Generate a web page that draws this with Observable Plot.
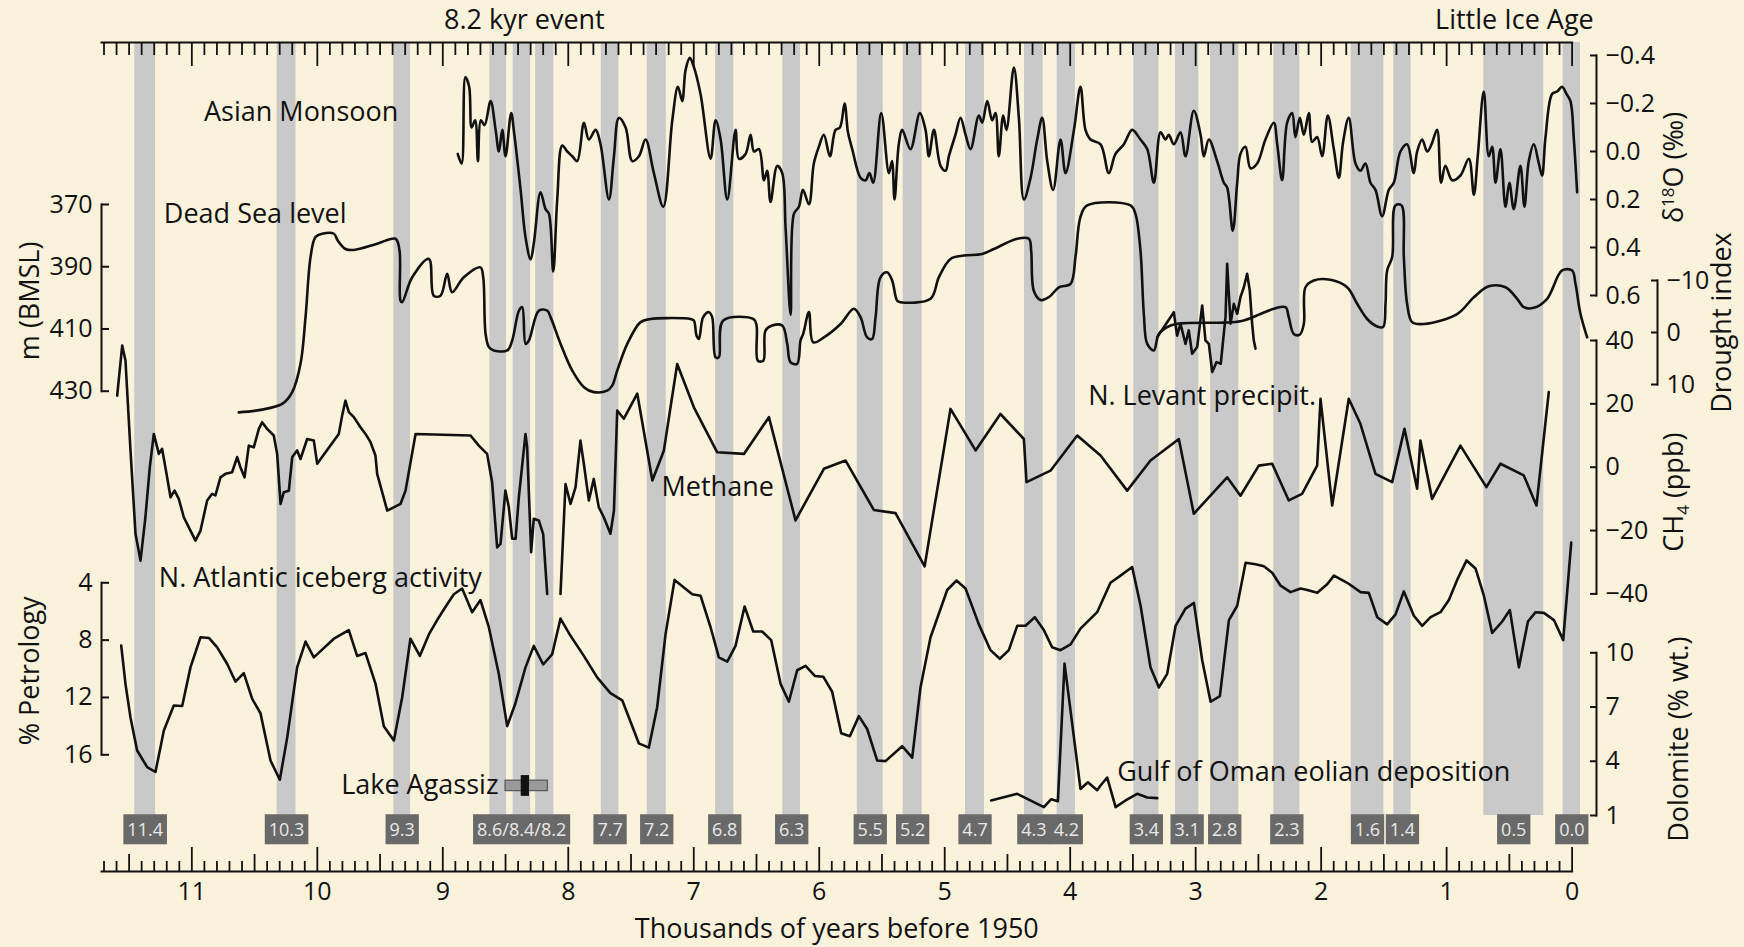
<!DOCTYPE html>
<html><head><meta charset="utf-8">
<script src="https://cdn.jsdelivr.net/npm/d3@7"></script>
<script src="https://cdn.jsdelivr.net/npm/@observablehq/plot@0.6"></script>
<style>
html,body{margin:0;padding:0;background:#fbf2dc;}
#chart{position:relative;width:1744px;height:947px;background:#fbf2dc;overflow:hidden;}
#chart svg{position:absolute;left:0;top:0;overflow:visible;}
</style></head><body><div id="chart"></div>
<script>
// ---------------- DATA (ages in thousands of years before 1950) ----------------
const bandStart = [11.455,10.32,9.39,8.625,8.439,8.26,7.737,7.371,6.826,6.29,5.697,5.331,4.834,4.364,4.104,3.493,3.161,2.881,2.377,1.761,1.421,0.704,0.072];
const bandEnd   = [11.289,10.17,9.257,8.492,8.30,8.115,7.597,7.219,6.68,6.149,5.49,5.18,4.683,4.215,3.958,3.293,2.975,2.656,2.17,1.5,1.283,0.226,-0.067];
const bandLabel = ["11.4","10.3","9.3","8.6/8.4/8.2","8.6/8.4/8.2","8.6/8.4/8.2","7.7","7.2","6.8","6.3","5.5","5.2","4.7","4.3","4.2","3.4","3.1","2.8","2.3","1.6","1.4","0.5","0.0"];

const eventNames = ["8.2 kyr event","Little Ice Age"];
const eventAges = [8.35, 0.46];

// Asian Monsoon, δ18O (‰)
const monsoon = [[8.881,0.01],[8.85,0.05],[8.82,-0.31],[8.79,-0.27],[8.77,-0.10],[8.742,-0.13],[8.72,0.04],[8.697,-0.13],[8.667,-0.11],[8.619,-0.21],[8.579,-0.09],[8.553,0.0],[8.526,-0.09],[8.50,0.02],[8.455,-0.16],[8.43,-0.07],[8.38,0.16],[8.34,0.36],[8.30,0.45],[8.274,0.38],[8.221,0.17],[8.181,0.24],[8.154,0.26],[8.12,0.50],[8.088,0.20],[8.048,-0.025],[8.008,0.0],[7.968,0.02],[7.929,0.04],[7.875,-0.12],[7.836,-0.05],[7.782,-0.09],[7.743,-0.03],[7.676,0.20],[7.636,0.02],[7.597,-0.14],[7.543,-0.10],[7.49,0.04],[7.437,0.02],[7.384,-0.05],[7.318,0.09],[7.243,0.23],[7.171,-0.13],[7.126,-0.27],[7.092,-0.21],[7.065,-0.34],[7.031,-0.39],[7.004,-0.36],[6.946,-0.24],[6.866,0.03],[6.826,-0.13],[6.786,-0.05],[6.733,0.20],[6.667,-0.09],[6.64,0.03],[6.587,0.01],[6.547,-0.07],[6.52,0.0],[6.48,-0.01],[6.44,0.12],[6.415,0.08],[6.388,0.21],[6.335,0.06],[6.295,0.09],[6.268,0.32],[6.228,0.68],[6.202,0.26],[6.162,0.23],[6.13,0.16],[6.082,0.22],[6.043,0.05],[6.003,-0.02],[5.963,-0.07],[5.915,0.02],[5.87,-0.09],[5.835,-0.10],[5.798,-0.20],[5.771,-0.08],[5.737,-0.01],[5.67,0.11],
[5.631,0.12],[5.60,0.09],[5.57,0.13],[5.506,-0.16],[5.445,0.09],[5.42,0.04],[5.40,0.20],[5.366,-0.03],[5.339,-0.09],[5.273,-0.01],[5.198,-0.16],[5.153,-0.09],[5.126,0.02],[5.086,-0.09],[5.033,0.06],[4.993,0.08],[4.967,0.02],[4.914,-0.07],[4.874,-0.14],[4.834,-0.07],[4.794,-0.01],[4.728,-0.15],[4.701,-0.12],[4.661,-0.21],[4.622,-0.13],[4.595,-0.16],[4.569,0.02],[4.534,-0.15],[4.508,-0.09],[4.449,-0.35],[4.409,-0.14],[4.369,0.20],[4.316,0.11],[4.263,-0.05],[4.223,-0.14],[4.183,0.04],[4.136,0.16],[4.077,-0.05],[4.037,0.09],[3.97,-0.09],[3.918,-0.27],[3.878,-0.09],[3.838,-0.05],[3.758,-0.03],[3.692,0.09],[3.639,0.01],[3.572,-0.03],[3.506,-0.09],[3.44,-0.05],[3.386,-0.01],[3.333,0.13],[3.28,-0.08],[3.24,-0.05],[3.214,-0.07],[3.174,-0.03],[3.121,-0.08],[3.081,0.02],[3.015,-0.17],[2.961,-0.07],[2.935,0.02],[2.895,-0.05],[2.829,0.04],[2.775,0.13],[2.749,0.15],[2.704,0.33],[2.669,0.13],[2.643,0.01],
[2.603,-0.02],[2.563,0.07],[2.51,0.05],[2.444,-0.05],[2.377,-0.12],[2.35,-0.03],[2.311,0.12],[2.271,-0.12],[2.231,-0.16],[2.205,-0.06],[2.17,-0.14],[2.138,-0.07],[2.098,-0.16],[2.072,-0.04],[2.032,-0.06],[1.992,0.02],[1.947,-0.15],[1.899,-0.01],[1.859,0.11],[1.825,-0.04],[1.78,-0.14],[1.726,0.05],[1.687,0.08],[1.647,0.05],[1.607,0.13],[1.567,0.16],[1.514,0.27],[1.461,0.16],[1.421,0.13],[1.368,0.0],[1.315,-0.03],[1.262,0.09],[1.235,0.0],[1.195,-0.05],[1.155,0.0],[1.12,-0.03],[1.076,-0.09],[1.044,0.13],[1.01,0.06],[0.956,0.12],[0.89,0.10],[0.823,0.03],[0.783,0.18],[0.752,0.02],[0.704,-0.25],[0.664,0.02],[0.637,-0.02],[0.61,0.13],[0.571,-0.01],[0.531,0.23],[0.50,0.13],[0.465,0.24],[0.412,0.06],[0.38,0.23],[0.345,0.04],[0.305,-0.03],[0.265,0.05],[0.239,0.10],[0.212,-0.06],[0.159,-0.24],[0.119,-0.25],[0.08,-0.27],[0.045,-0.24],[0.013,-0.21],[-0.014,-0.05],[-0.04,0.17]];

// Dead Sea level, m below mean sea level
const deadSea = [[10.626,436.8],[10.453,436],[10.28,434.1],[10.2,430.3],[10.134,421.2],[10.094,406.2],[10.054,386.9],[10.015,380.5],[9.961,379.4],[9.868,379.4],[9.837,381.6],[9.775,384.3],[9.709,384.6],[9.523,382.6],[9.377,381],[9.345,384.8],[9.337,400.9],[9.324,401.4],[9.244,393.4],[9.111,387.5],[9.072,399.3],[9.018,399.3],[8.965,392.3],[8.926,398.2],[8.833,393.4],[8.7,390.2],[8.678,393.4],[8.659,411.6],[8.632,415.9],[8.593,416.9],[8.486,416.9],[8.447,413.7],[8.393,404.1],[8.367,403],[8.34,414.8],[8.314,413.7],[8.234,404.1],[8.168,404.1],[8.141,406.2],[8.061,414.8],[7.968,423.4],[7.875,428.7],[7.796,430.3],[7.69,429.8],[7.65,428.2],[7.61,423.4],[7.53,414.8],[7.424,407.8],[7.344,406.8],[7.211,406.5],[7.025,406.8],[6.999,407.3],[6.978,412.1],[6.959,413.2],[6.925,406.2],[6.879,404.6],[6.853,406.2],[6.826,419.1],[6.8,419.1],[6.765,407.3],[6.521,406.9],[6.499,409],[6.489,420.2],[6.446,420.2],[6.428,410.5],[6.375,408.9],[6.295,408.9],[6.255,414.8],[6.229,420.7],[6.176,421.2],[6.149,413.7],[6.128,411.6],[6.082,404.6],[6.048,414.3],[5.963,412.7],[5.83,408.4],[5.724,403.5],[5.671,406.2],[5.618,412.7],[5.579,413.2],[5.551,406.2],[5.512,393.4],[5.459,391.8],[5.419,394.4],[5.379,400.9],[5.352,401.4],[5.113,400.3],[5.047,393.4],[4.954,387.5],[4.848,386.4],[4.701,385.9],[4.608,384.3],[4.422,381],[4.329,381],[4.311,384.8],[4.29,397.7],[4.236,400.7],[4.17,399.8],[4.09,396.6],[3.997,395.5],[3.958,386.9],[3.918,374],[3.865,370.3],[3.519,370.3],[3.48,373],[3.44,384.8],[3.413,405.2],[3.386,414.8],[3.333,416.9],[3.293,411.6],[3.2,408.9],[3.121,408.2],[2.643,407.5],[2.484,405.2],[2.377,403.5],[2.284,403],[2.258,406.2],[2.218,411.6],[2.17,411.8],[2.138,408.4],[2.125,396.6],[2.059,394.4],[1.926,394.2],[1.793,396.6],[1.713,401.9],[1.633,406.8],[1.554,409.2],[1.506,409.4],[1.487,401.9],[1.474,391.2],[1.434,386.9],[1.408,370.3],[1.36,370.3],[1.341,386.9],[1.315,401.9],[1.275,407.8],[1.182,408.4],[0.916,405.2],[0.783,399.8],[0.664,396.3],[0.531,396.6],[0.438,400.3],[0.385,403],[0.305,403.2],[0.199,400.3],[0.08,391.2],[0.0,391.2],[-0.027,395.5],[-0.067,405.2],[-0.12,412.7]];

// N. Levant precipitation, drought index
const levant = [[3.307,0.9],[3.174,-3.9],[3.148,0.6],[3.121,-1.7],[3.081,2.2],[3.055,-0.4],[3.028,4.1],[2.988,2.8],[2.948,-5.2],[2.922,1.5],[2.895,2.2],[2.868,7.6],[2.834,5.7],[2.80,6.0],[2.762,-3.0],[2.749,-13.2],[2.722,-1.7],[2.696,-5.5],[2.669,-3.6],[2.643,-6.8],[2.616,-8.7],[2.59,-11.3],[2.569,-8.1],[2.55,-1.7],[2.537,1.5],[2.523,3.1]];

// Methane anomaly, CH4 (ppb); null marks the gap in the record
const methane = [[11.595,22.6],[11.555,38.4],[11.529,33.7],[11.489,5.3],[11.449,-21],[11.409,-29.5],[11.37,-15.8],[11.335,0],[11.303,10.5],[11.263,4.2],[11.237,5.8],[11.197,-3.2],[11.17,-9.5],[11.138,-7.4],[11.104,-10],[11.064,-15.8],[11.011,-20],[10.971,-23.2],[10.931,-20],[10.878,-10.5],[10.838,-8.4],[10.812,-8.9],[10.772,-3.2],[10.732,-2.1],[10.679,-1.6],[10.639,3.2],[10.613,0],[10.58,-3.2],[10.546,6.8],[10.506,6.3],[10.466,12.1],[10.44,14.2],[10.4,12.1],[10.347,10],[10.32,4.2],[10.293,-11.6],[10.267,-7.9],[10.227,-7.4],[10.2,3.2],[10.161,5.3],[10.134,2.6],[10.081,8.9],[10.028,8.4],[10.001,1.1],[9.829,10.5],[9.802,16.3],[9.776,21],[9.749,17.4],[9.709,15.8],[9.656,12.6],[9.616,10.5],[9.576,7.9],[9.537,3.7],[9.523,-2.1],[9.443,-13.7],[9.337,-11.6],[9.297,-7.4],[9.217,10.5],[8.779,10],[8.713,6.8],[8.647,4.2],[8.607,-4.7],[8.567,-25.3],[8.54,-24.2],[8.501,-7.4],[8.474,-12.6],[8.447,-22.6],[8.42,-22.6],[8.394,-9.5],[8.341,10.5],[8.328,6.3],[8.296,-26.8],[8.275,-16.3],[8.235,-16.8],[8.2,-21.1],[8.168,-40],[8.115,null],[8.062,-40],[8.022,-5.3],[7.982,-11.6],[7.942,-6.3],[7.903,8.4],[7.876,1.1],[7.836,-10.5],[7.797,-3.7],[7.757,-12.6],[7.717,-15.8],[7.664,-21],[7.636,-13.7],[7.61,17.9],[7.557,15.3],[7.45,23.2],[7.33,-4.2],[7.238,5.3],[7.132,32.6],[6.999,18.9],[6.813,4.7],[6.6,4.2],[6.401,15.8],[6.189,-16.8],[5.963,-0.5],[5.79,2.1],[5.565,-13.5],[5.392,-14.5],[5.16,-31.3],[4.954,18.4],[4.754,5.3],[4.556,16.8],[4.369,8.9],[4.348,-4.7],[4.157,-1.1],[3.944,10],[3.758,3.7],[3.546,-7.4],[3.36,2.1],[3.134,8.9],[3.015,-14.7],[2.895,-9.5],[2.749,-3.2],[2.643,-9],[2.497,0.5],[2.39,1.1],[2.258,-10.5],[2.152,-8.4],[2.032,0.5],[2.005,21.6],[1.912,-12.1],[1.78,21.6],[1.687,13.7],[1.567,-2.1],[1.434,-4.7],[1.336,12.1],[1.235,-6.8],[1.209,8.4],[1.116,-10],[0.89,6.8],[0.683,-6.3],[0.571,1.1],[0.385,-2.6],[0.284,-12.1],[0.186,23.7]];

// N. Atlantic iceberg activity, % petrology
const petrology = [[11.563,8.37],[11.529,11.05],[11.489,13.4],[11.436,15.7],[11.356,16.86],[11.29,17.2],[11.223,14.3],[11.144,12.56],[11.077,12.6],[11.011,9.9],[10.931,7.8],[10.864,7.85],[10.798,8.5],[10.719,9.65],[10.652,10.9],[10.586,10.3],[10.519,12.1],[10.453,13.1],[10.373,16.4],[10.299,17.74],[10.24,14.8],[10.161,9.9],[10.094,8.1],[10.028,9.2],[9.868,7.9],[9.749,7.3],[9.683,9.1],[9.616,8.9],[9.536,11.05],[9.47,14],[9.39,15],[9.324,12],[9.258,7.9],[9.183,9.1],[9.111,7.6],[9.045,6.6],[8.965,5.5],[8.912,4.8],[8.846,4.4],[8.766,6.05],[8.7,5.2],[8.633,7.1],[8.554,10.35],[8.487,14],[8.421,12.4],[8.341,9.9],[8.275,8.4],[8.2,9.7],[8.129,9],[8.062,6.5],[7.982,7.7],[7.876,9.1],[7.77,10.6],[7.664,11.7],[7.57,12.2],[7.438,15.2],[7.358,15.5],[7.292,12.7],[7.225,7.6],[7.153,3.8],[7.012,4.8],[6.946,4.9],[6.866,7.1],[6.8,9.2],[6.733,9.5],[6.667,8.4],[6.595,5.65],[6.526,7.4],[6.455,7.4],[6.383,8],[6.308,11.05],[6.242,12.3],[6.176,10.1],[6.109,9.8],[6.035,10.5],[5.968,10.55],[5.897,11.6],[5.825,14.5],[5.756,14.7],[5.684,13.3],[5.618,14.2],[5.538,16.4],[5.472,16.44],[5.339,15.4],[5.259,16.2],[5.193,11.3],[5.113,7.8],[4.98,4.5],[4.906,3.84],[4.834,4.4],[4.728,6.9],[4.635,8.7],[4.561,9.3],[4.489,8.7],[4.422,7],[4.356,7],[4.282,6.4],[4.21,7.3],[4.144,8.5],[4.077,8.7],[3.997,8.3],[3.918,7.2],[3.785,6.05],[3.679,4.0],[3.599,3.5],[3.506,2.9],[3.439,5.6],[3.36,9.9],[3.293,11.3],[3.227,10.35],[3.16,7],[3.081,5.8],[3.014,5.4],[2.948,9.4],[2.881,12.3],[2.807,11.9],[2.735,6.6],[2.669,5.6],[2.602,2.6],[2.523,2.7],[2.456,2.85],[2.39,3.3],[2.323,4.2],[2.244,4.65],[2.164,4.4],[2.11,4.5],[2.031,4.7],[1.952,4.1],[1.898,3.5],[1.792,4],[1.686,4.65],[1.62,4.7],[1.553,6.4],[1.474,6.9],[1.407,6.2],[1.341,4.6],[1.261,6.3],[1.195,7],[1.128,6.4],[1.049,6.05],[0.982,5.2],[0.916,3.8],[0.841,2.44],[0.77,3],[0.703,4.9],[0.637,7.5],[0.557,6.7],[0.496,5.9],[0.424,9.9],[0.352,6.7],[0.291,6.05],[0.225,6.1],[0.145,6.6],[0.071,8],[0.007,1.2]];

// Gulf of Oman eolian deposition, dolomite (% wt.)
const dolomite = [[4.63,1.83],[4.422,2.2],[4.21,1.46],[4.151,1.9],[4.098,1.79],[4.045,9.4],[3.918,2.47],[3.859,2.84],[3.785,2.4],[3.758,2.66],[3.705,3.1],[3.638,1.46],[3.559,1.83],[3.466,2.2],[3.386,2.0],[3.306,1.96]];

// Lake Agassiz drainage (age range, with best estimate)
const agassizRange = [8.5, 8.163];
const agassizBest = [8.375, 8.309];

// Tick values
const d18OTicks = [-0.4,-0.2,0,0.2,0.4,0.6];
const droughtTicks = [-10,0,10];
const seaTicks = [370,390,410,430];
const ch4Ticks = [40,20,0,-20,-40];
const petroTicks = [4,8,12,16];
const dolomiteTicks = [10,7,4,1];
const ageTicks = d3.range(0,12);

// ---------------- DRAWING ----------------
const W = 1744, H = 947;
const chart = document.getElementById("chart");
const FONT = "'Open Sans', 'Noto Sans', sans-serif";
const ageScale = {domain: [11.72, 0], range: [101, 1571.6], axis: null};
const LINE = {stroke: "#111", strokeWidth: 2.6, strokeLinejoin: "round", strokeLinecap: "round"};
const tenths = d3.range(0, 118);
const BOX_FILL = "#e9e9e9";

function layer(o) {
  const svg = Plot.plot({
    width: W, height: H,
    marginTop: o.top, marginBottom: H - o.bottom,
    marginLeft: o.left ?? 101, marginRight: W - (o.right ?? 1571.6),
    x: ageScale,
    y: o.y ? {...o.y, axis: null} : undefined,
    style: {background: "transparent", fontFamily: FONT, fontSize: "25px", color: "#111", overflow: "visible"},
    marks: o.marks
  });
  chart.appendChild(svg);
  return svg;
}
function axisRight(ticks, fmt) {
  return [
    Plot.frame({anchor: "right", strokeWidth: 2}),
    Plot.axisY({anchor: "right", ticks, tickSize: -7, fill: "none", strokeWidth: 2, label: null}),
    Plot.axisY({anchor: "right", ticks, tickSize: 0, tickPadding: 9, tickFormat: fmt, label: null, fontSize: 25})
  ];
}
function axisLeft(ticks, fmt) {
  return [
    Plot.frame({anchor: "left", strokeWidth: 2}),
    Plot.axisY({anchor: "left", ticks, tickSize: -8, fill: "none", strokeWidth: 2, label: null}),
    Plot.axisY({anchor: "left", ticks, tickSize: 0, tickPadding: 9, tickFormat: fmt, label: null, fontSize: 25})
  ];
}
const title = (s, anchor, dx, dy = 0) => Plot.text([s], {text: d => d, frameAnchor: anchor, dx, dy, rotate: -90, textAnchor: "middle", lineAnchor: "middle", fontSize: 27});
const note = (x, y, s) => Plot.text([s], {x: () => x, y: () => y, text: d => d, textAnchor: "start", lineAnchor: "middle", fontSize: 27});

// Base layer: bands, time axes, band labels
const bands = bandStart.map((s, i) => ({start: s, end: bandEnd[i], label: bandLabel[i]}));
const labelPos = Array.from(d3.group(bands, d => d.label), ([label, g]) => ({label, mid: d3.mean(g, d => (d.start + d.end) / 2)}));
const base = layer({
  top: 42, bottom: 871, right: 1571.6,
  marks: [
    Plot.rect(bands, {x1: "start", x2: "end", fill: "#c9c9c9", insetBottom: 56}),
    Plot.frame({anchor: "top", strokeWidth: 2}),
    Plot.frame({anchor: "bottom", strokeWidth: 2}),
    Plot.axisX({anchor: "top", ticks: tenths.filter(i => i % 10).map(i => i / 10), tickSize: -12, fill: "none", strokeWidth: 1.8, label: null}),
    Plot.axisX({anchor: "top", ticks: ageTicks, tickSize: -23, fill: "none", strokeWidth: 1.8, label: null}),
    Plot.axisX({anchor: "bottom", ticks: tenths.filter(i => i % 5).map(i => i / 10), tickSize: -10, fill: "none", strokeWidth: 1.8, label: null}),
    Plot.axisX({anchor: "bottom", ticks: tenths.filter(i => i % 10 === 5).map(i => i / 10), tickSize: -17, fill: "none", strokeWidth: 1.8, label: null}),
    Plot.axisX({anchor: "bottom", ticks: ageTicks, tickSize: -24, fill: "none", strokeWidth: 1.8, label: null}),
    Plot.axisX({anchor: "bottom", ticks: ageTicks, tickSize: 0, tickPadding: 11, tickFormat: d => String(d), label: null, fontSize: 25}),
    Plot.text(labelPos, {x: "mid", text: "label", frameAnchor: "bottom", lineAnchor: "middle", dy: -41, fill: BOX_FILL, fontSize: 18}),
    Plot.text(eventNames, {x: (d, i) => eventAges[i], text: d => d, frameAnchor: "top", lineAnchor: "middle", dy: -22, fontSize: 27}),
    Plot.text(["Thousands of years before 1950"], {text: d => d, frameAnchor: "bottom", lineAnchor: "middle", dy: 58, fontSize: 27})
  ]
});

// Asian Monsoon
layer({top: 55, bottom: 295, right: 1596, y: {domain: [-0.4, 0.6], reverse: true},
  marks: [
    Plot.line(monsoon, {x: d => d[0], y: d => d[1], curve: "catmull-rom", ...LINE}),
    ...axisRight(d18OTicks, d3.format(".1f")),
    title("δ18O (‰)", "right", 78, -8),
    note(10.903, -0.165, "Asian Monsoon")
  ]});

// Dead Sea level
layer({top: 204, bottom: 390.7, left: 101, y: {domain: [370, 430], reverse: true},
  marks: [
    Plot.line(deadSea, {x: d => d[0], y: d => d[1], curve: "catmull-rom", ...LINE}),
    ...axisLeft(seaTicks, d3.format("d")),
    title("m (BMSL)", "left", -71, 3),
    note(11.223, 373.2, "Dead Sea level")
  ]});

// N. Levant precipitation (drought index)
layer({top: 280, bottom: 384, right: 1657, y: {domain: [-10, 10], reverse: true},
  marks: [
    Plot.line(levant, {x: d => d[0], y: d => d[1], ...LINE}),
    ...axisRight(droughtTicks, d3.format("d")),
    title("Drought index", "right", 65, -10),
    note(3.857, 12.3, "N. Levant precipit.")
  ]});

// Methane
layer({top: 340, bottom: 593.4, right: 1596, y: {domain: [-40, 40]},
  marks: [
    Plot.line(methane, {x: d => d[0], y: d => d[1], ...LINE}),
    ...axisRight(ch4Ticks, d3.format("d")),
    title("CH4 (ppb)", "right", 78, 25),
    note(7.257, -6.4, "Methane")
  ]});

// N. Atlantic iceberg activity
layer({top: 582.3, bottom: 754.3, left: 101, y: {domain: [4, 16], reverse: true},
  marks: [
    Plot.line(petrology, {x: d => d[0], y: d => d[1], ...LINE}),
    ...axisLeft(petroTicks, d3.format("d")),
    title("% Petrology", "left", -71, 2),
    note(11.263, 3.67, "N. Atlantic iceberg activity"),
    Plot.rect([agassizRange], {x1: d => d[0], x2: d => d[1], y1: () => 17.8, y2: () => 18.54, fill: "#9a9a9a", stroke: "#444", strokeWidth: 1}),
    Plot.rect([agassizBest], {x1: d => d[0], x2: d => d[1], y1: () => 17.45, y2: () => 18.9, fill: "#111"}),
    note(9.81, 18.15, "Lake Agassiz")
  ]});

// Gulf of Oman dolomite
layer({top: 652.3, bottom: 815, right: 1596, y: {domain: [1, 10]},
  marks: [
    Plot.line(dolomite, {x: d => d[0], y: d => d[1], ...LINE}),
    ...axisRight(dolomiteTicks, d3.format("d")),
    title("Dolomite (% wt.)", "right", 83, 5),
    note(3.625, 3.40, "Gulf of Oman eolian deposition")
  ]});

// Band label boxes (dark background behind each band label)
const labelSet = new Set(bandLabel);
d3.select(base).selectAll("text").filter(function () {
  return labelSet.has(this.textContent);
}).each(function () {
  const b = this.getBBox();
  const w = b.width + 8, h = 30;
  const r = document.createElementNS("http://www.w3.org/2000/svg", "rect");
  r.setAttribute("x", b.x + b.width / 2 - w / 2);
  r.setAttribute("y", b.y + b.height / 2 - h / 2);
  r.setAttribute("width", w);
  r.setAttribute("height", h);
  r.setAttribute("fill", "#696969");
  r.setAttribute("stroke", "none");
  const tr = this.getAttribute("transform");
  if (tr) r.setAttribute("transform", tr);
  this.parentNode.insertBefore(r, this);
});

// Superscript / subscript in axis titles
d3.selectAll("#chart text").each(function () {
  const s = d3.select(this), t = this.textContent;
  if (t === "δ18O (‰)") {
    s.text(null);
    s.append("tspan").text("δ");
    s.append("tspan").attr("dy", -9).attr("font-size", 17).text("18");
    s.append("tspan").attr("dy", 9).text("O (‰)");
  } else if (t === "CH4 (ppb)") {
    s.text(null);
    s.append("tspan").text("CH");
    s.append("tspan").attr("dy", 6).attr("font-size", 17).text("4");
    s.append("tspan").attr("dy", -6).text(" (ppb)");
  }
});
</script></body></html>
